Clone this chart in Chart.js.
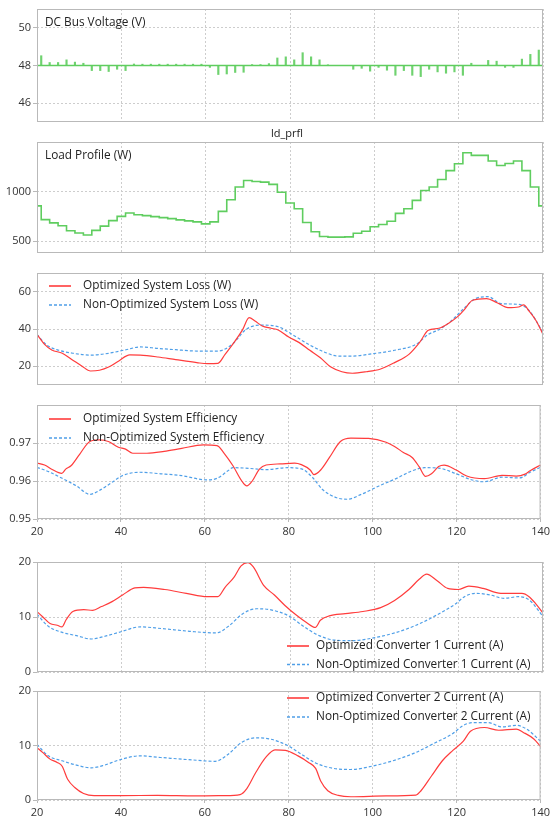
<!DOCTYPE html>
<html>
<head>
<meta charset="utf-8">
<script src="https://cdn.jsdelivr.net/npm/chart.js@4.4.1/dist/chart.umd.min.js"></script>
<style>
  body { margin: 0; background: #fff; }
  #wrap { position: relative; width: 553px; height: 821px; }
  #wrap canvas { position: absolute; left: 0; top: 0; }
</style>
</head>
<body>
<div id="wrap">
  <canvas id="bus" width="553" height="821"></canvas>
  <canvas id="load" width="553" height="821"></canvas>
  <canvas id="loss" width="553" height="821"></canvas>
  <canvas id="eff" width="553" height="821"></canvas>
  <canvas id="conv1" width="553" height="821"></canvas>
  <canvas id="conv2" width="553" height="821"></canvas>
</div>
<script>
// ---- data ----
const xTicks = [20, 40, 60, 80, 100, 120, 140];

// DC bus: nominal level and the transient tip at every load step
const busNominal = 48;
const stepTimes = [21, 23, 25, 27, 29, 31, 33, 35, 37, 39, 41, 43, 45, 47, 49, 51, 53, 55, 57, 59,
  61, 63, 65, 67, 69, 71, 73, 75, 77, 79, 81, 83, 85, 87, 89, 91, 93, 95, 97, 99,
  101, 103, 105, 107, 109, 111, 113, 115, 117, 119, 121, 123, 125, 127, 129, 131, 133, 135, 137, 139];
const busTip = [48.52, 48.16, 48.16, 48.30, 48.18, 48.12, 47.73, 47.73, 47.68, 47.80,
  47.73, 48.08, 48.07, 48.07, 48.07, 48.07, 48.07, 48.07, 48.07, 48.07,
  47.90, 47.52, 47.55, 47.63, 47.64, 48.05, 48.05, 48.10, 48.40, 48.46,
  48.30, 48.68, 48.46, 48.30, 48.04, 48.00, 48.00, 47.80, 47.85, 47.70,
  47.90, 47.75, 47.48, 47.73, 47.48, 47.41, 47.80, 47.66, 47.59, 47.66,
  47.48, 48.12, 48.00, 48.27, 48.23, 47.90, 47.90, 48.34, 48.59, 48.82];
const busTicks = [46, 48, 50];

// load profile: level held from each time until the next one
const loadTimes = [20].concat(stepTimes);
const loadLevel = [855, 717, 684, 655, 605, 582, 562, 608, 651, 707, 750, 783, 766, 757, 747, 737, 727, 714, 704, 694,
  674, 694, 800, 918, 1046, 1112, 1102, 1095, 1072, 993, 885, 826, 688, 595, 546, 540, 540, 543, 579, 599,
  645, 668, 701, 780, 826, 911, 1010, 1046, 1122, 1211, 1280, 1391, 1365, 1365, 1309, 1263, 1283, 1309, 1211, 1046, 855];
const loadTicks = [500, 1000];

// system loss (W)
const lossOptT = [20, 21.8, 23.5, 26, 28.5, 30.6, 32.7, 34.8, 37, 39.4, 42, 44.5, 48.7, 52.9, 57.9, 60.4, 62.9, 64.6, 66.7, 68.8,
  70.3, 71.7, 73.4, 75.5, 77.2, 79.7, 82.2, 84.7, 87.2, 89.7, 92.3, 94.8, 98.1, 101.5, 104.8, 108.2, 110.7, 112.8, 115.3, 117.8,
  119.9, 121.2, 123.3, 126.6, 129.1, 131.7, 134.2, 135.4, 136.7, 138.4, 140];
const lossOpt = [37.1, 31.8, 28.8, 27, 23.3, 20.2, 17.5, 17.9, 19.6, 22.9, 26.1, 26, 25, 23.6, 22, 21.4, 21.6, 26.4, 32.7, 39.8,
  46.1, 44.3, 41.6, 40.4, 39.5, 35.7, 32.7, 28.6, 24.6, 19.6, 17.1, 16.3, 17.1, 18.6, 22, 26.4, 32.7, 39.3, 40.4, 43.4,
  46.9, 50, 55.4, 56.3, 54.1, 51.4, 51.8, 52.9, 49.6, 44.3, 37.1];
const lossStdT = [20, 22.3, 25.2, 28.5, 32.7, 37, 41.1, 44.5, 48.7, 52.9, 57.9, 62.9, 66.3, 69.6, 73, 77.2, 80.5, 84.7, 88.1, 91.4,
  94.8, 99.8, 104.8, 109.9, 112.8, 115.3, 118.2, 121.6, 124.1, 127, 130, 134.2, 136.7, 138.4, 140];
const lossStd = [37.1, 31.4, 28.6, 27, 26, 27, 28.9, 30.4, 29.6, 28.9, 28.2, 28.2, 31.8, 39.8, 42.1, 41.2, 37.1, 31.4, 27.7, 25.5,
  25.5, 26.8, 28.6, 31.8, 37.1, 39.6, 44.3, 51.8, 56.4, 57.3, 53.6, 53.2, 50, 44.3, 38];
const lossTicks = [20, 40, 60];

// system efficiency
const effOptT = [20, 21.8, 23.5, 25.9, 26.9, 28.1, 30.2, 32.6, 34.8, 37, 39.4, 41.1, 42.8, 46.2, 50.3, 54.5, 59.6, 62.9, 64.6, 66.7,
  68.8, 70, 71.3, 73, 74.6, 78, 81.4, 83, 85.1, 86, 87.6, 89.7, 92.3, 94.8, 99, 103.2, 105.2, 107.3, 109.4, 111.1,
  112.6, 114, 115.7, 117, 119.9, 122.4, 126.6, 130.8, 134.2, 136.3, 137.5, 140];
const effOpt = [0.9647, 0.9642, 0.9631, 0.9620, 0.9632, 0.9640, 0.9671, 0.9704, 0.9708, 0.9704,
  0.9689, 0.9684, 0.9673, 0.9673, 0.9678, 0.9686, 0.9695, 0.9693, 0.9673, 0.9640,
  0.9600, 0.9587, 0.9600, 0.9631, 0.9642, 0.9645, 0.9647, 0.9643, 0.9629, 0.9617,
  0.9629, 0.9662, 0.9704, 0.9713, 0.9712, 0.9702, 0.9691, 0.9675, 0.9662, 0.9637,
  0.9612, 0.9619, 0.9638, 0.9642, 0.9629, 0.9613, 0.9606, 0.9615, 0.9613, 0.9618, 0.9627, 0.9642];
const effStdT = [20, 22.7, 26, 29.4, 32.6, 35.3, 37.8, 40.3, 44.5, 49.5, 54.5, 60.4, 62.9, 65.4, 66.7, 69.6, 74.6, 79.7, 83, 85.6,
  88.1, 91.4, 93.9, 97.3, 101.5, 105.7, 109, 112.4, 115.7, 119.9, 123.3, 126.6, 130.8, 135, 137.5, 140];
const effStd = [0.9636, 0.9625, 0.9607, 0.9587, 0.9565, 0.9578, 0.9596, 0.9614, 0.9623, 0.9619,
  0.9614, 0.9603, 0.9607, 0.9626, 0.9635, 0.9634, 0.9630, 0.9635, 0.9632, 0.9610,
  0.9577, 0.9556, 0.9552, 0.9565, 0.9587, 0.9607, 0.9625, 0.9635, 0.9634, 0.9619,
  0.9604, 0.9598, 0.9610, 0.9608, 0.9623, 0.9636];
const effTicks = [0.95, 0.96, 0.97];

// converter currents (A)
const conv1OptT = [20, 21.4, 23.1, 24.8, 25.9, 26.9, 28.5, 31.1, 33.2, 35.3, 37.8, 40.3, 43.2, 45.3, 50.3, 55.4, 60.4, 62.9, 64.6, 66.7,
  68.4, 70, 71.3, 73.8, 76.3, 78.8, 81.4, 83.9, 86, 87.2, 89.3, 93.1, 97.3, 101.5, 104.8, 108.2, 110.7, 112.4, 114.9, 117.4,
  119.9, 122.4, 125.8, 130, 135, 136.7, 138.4, 140];
const conv1Opt = [10.98, 10, 8.8, 8.5, 8.2, 9.5, 11, 11.35, 11.2, 11.9, 12.8, 14, 15.3, 15.4, 15, 14.3, 13.7, 13.7, 15.4, 17.2,
  19.3, 19.9, 19.1, 15.7, 14, 12.1, 10.4, 9, 8.1, 9.4, 10.2, 10.6, 11, 11.7, 13, 15, 16.9, 17.8, 16.6, 15.2,
  15, 15.6, 15.2, 14.3, 14.3, 13.7, 12.3, 10.7];
const convStdT = [20, 22.7, 26, 29.4, 32.9, 36.1, 39.4, 44.5, 49.5, 56.2, 62.5, 65.4, 68.8, 72.1, 75.5, 79.7, 83, 86.4, 90.6, 94.8,
  99.8, 104.8, 109.9, 114.9, 119.1, 121.6, 124.1, 127.5, 130.8, 134.2, 136.7, 140];
const conv1Std = [10.5, 8.3, 7.2, 6.6, 6, 6.5, 7.2, 8.2, 7.9, 7.4, 7.1, 8.3, 10.6, 11.5, 11.3, 10.2, 8.4, 6.8, 5.8, 5.7,
  6.2, 7.1, 8.5, 10.4, 12.3, 13.8, 14.3, 14, 13.4, 13.7, 13.1, 10.1];
const conv2OptT = [20, 21.4, 23.1, 24.8, 26, 27.3, 29, 31.1, 33.6, 40.3, 48.7, 57.9, 64.6, 68.4, 70, 72.1, 74.6, 76.7, 79.2, 82.2,
  84.7, 86.4, 87.6, 89.3, 91.8, 94.8, 103.2, 110.3, 111.5, 114, 116.6, 119.1, 121.6, 123.3, 126.6, 130, 134.2, 135.9, 138.4, 140];
const conv2Opt = [9.6, 8.7, 7.5, 6.9, 6.2, 3.8, 2.3, 1.2, 0.8, 0.8, 0.85, 0.75, 0.8, 1, 2.1, 5, 7.9, 9.2, 9.1, 8.1,
  6.9, 5.8, 3.5, 1.7, 0.85, 0.6, 0.75, 0.9, 1.7, 4.4, 7.2, 9.1, 10.8, 12.6, 13.3, 12.8, 13, 12.4, 11.2, 9.8];
const conv2Std = [10.2, 8.1, 7.2, 6.4, 5.9, 6.4, 7.3, 8.1, 7.8, 7.4, 7.1, 8.3, 10.6, 11.4, 11.2, 10, 8.4, 6.8, 5.8, 5.6,
  6.2, 7.2, 8.6, 10.5, 12.2, 13.7, 14.2, 14.2, 13.4, 13.7, 13, 10.8];
const convTicks = [0, 10, 20];

// ---- look ----
const H = 821;
const green = 'rgb(95, 205, 95)';
const red = '#ff3c3c';
const blue = '#4f9fe8';
const gridColor = '#cdcdcd';
const frameColor = '#b9b9b9';
const textFont = "'Open Sans', sans-serif";
const xLabelBand = 20;

Chart.defaults.font.family = textFont;
Chart.defaults.font.size = 11;
Chart.defaults.color = '#333';

function pts(ts, vs) {
  return ts.map((t, i) => ({ x: t, y: vs[i] }));
}

// frame, in-plot title and hand placed legend like the scope window
const panelDecor = {
  id: 'panelDecor',
  afterDatasetsDraw(chart, args, o) {
    const ctx = chart.ctx, a = chart.chartArea;
    ctx.save();
    ctx.strokeStyle = frameColor;
    ctx.lineWidth = 1;
    ctx.strokeRect(a.left + 0.5, a.top + 0.5, a.width - 1, a.height - 1);
    ctx.fillStyle = '#222';
    ctx.textBaseline = 'middle';
    if (o.title) {
      ctx.font = '11.8px ' + textFont;
      ctx.fillText(o.title, a.left + 8, a.top + 14);
    }
    if (o.header) {
      ctx.font = '11px ' + textFont;
      ctx.textAlign = 'center';
      ctx.fillText(o.header, (a.left + a.right) / 2 - 3, a.top - 8);
      ctx.textAlign = 'left';
    }
    if (o.legend) {
      const lg = o.legend;
      ctx.font = '11.8px ' + textFont;
      chart.data.datasets.forEach((ds, i) => {
        const y = a.top + lg.y + i * lg.gap;
        const x = a.left + lg.x;
        ctx.strokeStyle = ds.borderColor;
        ctx.lineWidth = 1.6;
        ctx.setLineDash(ds.borderDash || []);
        ctx.beginPath();
        ctx.moveTo(x, y);
        ctx.lineTo(x + 22, y);
        ctx.stroke();
        ctx.setLineDash([]);
        ctx.fillText(ds.label, x + 22 + lg.textGap, y);
      });
    }
    ctx.restore();
  }
};

function panelOptions(top, bottom, yMin, yMax, yTicks, showX, decor) {
  const band = showX ? xLabelBand : 0;
  return {
    responsive: false,
    animation: false,
    events: [],
    layout: { padding: { top: top, bottom: H - bottom - band, left: 0, right: 10 } },
    plugins: { legend: { display: false }, tooltip: { enabled: false }, panelDecor: decor },
    scales: {
      x: {
        type: 'linear', min: 20, max: 140, offset: false,
        afterFit: s => { s.height = band; },
        afterBuildTicks: s => { s.ticks = xTicks.map(v => ({ value: v })); },
        grid: { color: gridColor, offset: false, drawTicks: showX, tickLength: 3, tickColor: frameColor },
        border: { display: false, dash: [2, 2] },
        ticks: { display: showX, padding: 3, maxRotation: 0, autoSkip: false, callback: v => String(v) }
      },
      y: {
        type: 'linear', min: yMin, max: yMax,
        afterFit: s => { s.width = 37; },
        afterBuildTicks: s => { s.ticks = yTicks.map(v => ({ value: v })); },
        grid: { color: gridColor, tickLength: 4, tickColor: frameColor },
        border: { display: false, dash: [2, 2] },
        ticks: { padding: 2, autoSkip: false, callback: v => String(v) }
      }
    }
  };
}

function curve(label, ts, vs, color, dashed) {
  return {
    label: label,
    data: pts(ts, vs),
    borderColor: color,
    borderWidth: 1.2,
    borderDash: dashed ? [3, 2] : [],
    pointRadius: 0,
    cubicInterpolationMode: 'monotone',
    fill: false
  };
}

// DC bus voltage
new Chart(document.getElementById('bus'), {
  type: 'bar',
  data: {
    datasets: [
      { type: 'line', data: [{ x: 20, y: busNominal }, { x: 140, y: busNominal }],
        borderColor: green, borderWidth: 1.4, pointRadius: 0 },
      { type: 'bar', data: stepTimes.map((t, i) => ({ x: t, y: [busNominal, busTip[i]] })),
        backgroundColor: 'rgba(95, 205, 95, 0.9)', borderWidth: 0, barThickness: 1.5, grouped: false }
    ]
  },
  options: panelOptions(9, 122, 45, 51, busTicks, false, { title: 'DC Bus Voltage (V)' }),
  plugins: [panelDecor]
});

// Load profile
const loadPts = pts(loadTimes, loadLevel);
loadPts.push({ x: 140, y: loadLevel[loadLevel.length - 1] });
new Chart(document.getElementById('load'), {
  type: 'line',
  data: {
    datasets: [{ data: loadPts, stepped: true, borderColor: green, borderWidth: 1.6, pointRadius: 0 }]
  },
  options: panelOptions(142, 253, 380, 1500, loadTicks, false, { title: 'Load Profile (W)', header: 'ld_prfl' }),
  plugins: [panelDecor]
});

// System loss
new Chart(document.getElementById('loss'), {
  type: 'line',
  data: {
    datasets: [
      curve('Optimized System Loss (W)', lossOptT, lossOpt, red, false),
      curve('Non-Optimized System Loss (W)', lossStdT, lossStd, blue, true)
    ]
  },
  options: panelOptions(273, 385, 10, 70, lossTicks, false, { legend: { x: 12, y: 13, gap: 19, textGap: 12 } }),
  plugins: [panelDecor]
});

// System efficiency
new Chart(document.getElementById('eff'), {
  type: 'line',
  data: {
    datasets: [
      curve('Optimized System Efficiency', effOptT, effOpt, red, false),
      curve('Non-Optimized System Efficiency', effStdT, effStd, blue, true)
    ]
  },
  options: panelOptions(405, 519, 0.95, 0.98, effTicks, true, { legend: { x: 12, y: 14, gap: 19, textGap: 12 } }),
  plugins: [panelDecor]
});

// Converter 1 current
new Chart(document.getElementById('conv1'), {
  type: 'line',
  data: {
    datasets: [
      curve('Optimized Converter 1 Current (A)', conv1OptT, conv1Opt, red, false),
      curve('Non-Optimized Converter 1 Current (A)', convStdT, conv1Std, blue, true)
    ]
  },
  options: panelOptions(562, 672, 0, 20, convTicks, false, { legend: { x: 250, y: 84, gap: 18.5, textGap: 7 } }),
  plugins: [panelDecor]
});

// Converter 2 current
new Chart(document.getElementById('conv2'), {
  type: 'line',
  data: {
    datasets: [
      curve('Optimized Converter 2 Current (A)', conv2OptT, conv2Opt, red, false),
      curve('Non-Optimized Converter 2 Current (A)', convStdT, conv2Std, blue, true)
    ]
  },
  options: panelOptions(691, 800, 0, 20, convTicks, true, { legend: { x: 250, y: 7, gap: 19, textGap: 7 } }),
  plugins: [panelDecor]
});
</script>
</body>
</html>
